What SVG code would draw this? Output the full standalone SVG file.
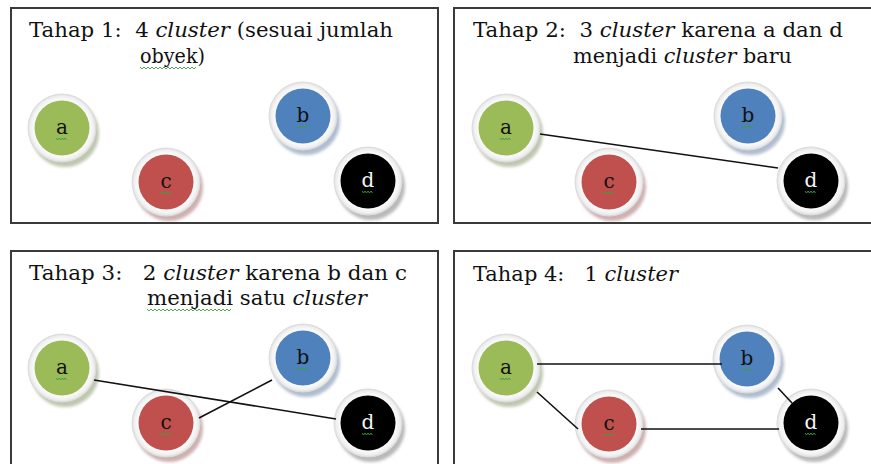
<svg xmlns="http://www.w3.org/2000/svg" width="871" height="464" viewBox="0 0 871 464">
<style>
.panel{fill:#fff;stroke:#3a3a3a;stroke-width:2}
.t{font-family:"DejaVu Serif","Liberation Serif",serif;font-size:19.5px;fill:#111;white-space:pre}
.i{font-style:italic}
.lbl{font-family:"DejaVu Serif","Liberation Serif",serif;font-size:20px;fill:#111;text-anchor:middle}
.ring{fill:url(#rg);stroke:#dcdcdc;stroke-width:1}
.conn{stroke:#111;stroke-width:1.6;fill:none}
.sq{stroke:#3aa03a;stroke-width:0.9;fill:none}
.ga{fill:#9BBB59}.bb{fill:#4F81BD}.rc{fill:#C0504D}.kd{fill:#000}
</style>
<defs>
<radialGradient id="rg" cx="0.5" cy="0.5" r="0.5">
<stop offset="0.78" stop-color="#ffffff"/>
<stop offset="0.93" stop-color="#f0f0f0"/>
<stop offset="1" stop-color="#dedede"/>
</radialGradient>
<filter id="sh" x="-30%" y="-30%" width="160%" height="160%"><feGaussianBlur stdDeviation="1.8"/></filter>
<g id="na"><circle cx="3" cy="5" r="34" fill="#8a9a70" opacity="0.55" filter="url(#sh)"/><circle r="34" class="ring"/><circle r="27.5" class="ga"/><text y="6" class="lbl">a</text><path class="sq" d="M-6,10 l1.5,2 l1.5,-2 l1.5,2 l1.5,-2 l1.5,2 l1.5,-2 l1.5,2"/></g>
<g id="nb"><circle cx="3" cy="5" r="34" fill="#7088a8" opacity="0.55" filter="url(#sh)"/><circle r="34" class="ring"/><circle r="27.5" class="bb"/><text y="6" class="lbl">b</text><path class="sq" d="M-6,10 l1.5,2 l1.5,-2 l1.5,2 l1.5,-2 l1.5,2 l1.5,-2 l1.5,2"/></g>
<g id="nc"><circle cx="3" cy="5" r="34" fill="#a87070" opacity="0.55" filter="url(#sh)"/><circle r="34" class="ring"/><circle r="27.5" class="rc"/><text y="6" class="lbl">c</text><path class="sq" d="M-6,10 l1.5,2 l1.5,-2 l1.5,2 l1.5,-2 l1.5,2 l1.5,-2 l1.5,2"/></g>
<g id="nd"><circle cx="3" cy="5" r="34" fill="#808080" opacity="0.55" filter="url(#sh)"/><circle r="34" class="ring"/><circle r="27.5" class="kd"/><text y="6" class="lbl" style="fill:#f4f4f4">d</text><path class="sq" d="M-6,10 l1.5,2 l1.5,-2 l1.5,2 l1.5,-2 l1.5,2 l1.5,-2 l1.5,2"/></g>
</defs>

<g id="panel1">
<rect class="panel" x="11" y="8" width="427" height="215"/>
<text class="t" x="29" y="37" textLength="364" lengthAdjust="spacingAndGlyphs">Tahap 1:  4 <tspan class="i">cluster</tspan> (sesuai jumlah</text>
<text class="t" x="140" y="63" textLength="65" lengthAdjust="spacingAndGlyphs">obyek)</text>
<path class="sq" d="M140,67 l2,2 l2,-2 l2,2 l2,-2 l2,2 l2,-2 l2,2 l2,-2 l2,2 l2,-2 l2,2 l2,-2 l2,2 l2,-2 l2,2 l2,-2 l2,2 l2,-2 l2,2 l2,-2 l2,2 l2,-2 l2,2 l2,-2 l2,2 l2,-2 l2,2 l2,-2"/>
<g id="p1-a"><use href="#na" x="62" y="128"/></g>
<g id="p1-b"><use href="#nb" x="303" y="116"/></g>
<g id="p1-c"><use href="#nc" x="166" y="182"/></g>
<g id="p1-d"><use href="#nd" x="368" y="181"/></g>
</g>

<g id="panel2">
<rect class="panel" x="454" y="8" width="430" height="215"/>
<text class="t" x="473" y="37" textLength="370" lengthAdjust="spacingAndGlyphs">Tahap 2:  3 <tspan class="i">cluster</tspan> karena a dan d</text>
<text class="t" x="573" y="63" textLength="219" lengthAdjust="spacingAndGlyphs">menjadi <tspan class="i">cluster</tspan> baru</text>
<g id="p2-a"><use href="#na" x="506" y="128"/></g>
<g id="p2-b"><use href="#nb" x="748" y="116"/></g>
<g id="p2-c"><use href="#nc" x="609" y="182"/></g>
<g id="p2-d"><use href="#nd" x="811" y="181"/></g>
</g>

<g id="panel3">
<rect class="panel" x="11" y="251" width="427" height="230"/>
<text class="t" x="29" y="280" textLength="378" lengthAdjust="spacingAndGlyphs">Tahap 3:   2 <tspan class="i">cluster</tspan> karena b dan c</text>
<text class="t" x="147" y="305" textLength="220" lengthAdjust="spacingAndGlyphs">menjadi satu <tspan class="i">cluster</tspan></text>
<path class="sq" d="M147,309 l2,2 l2,-2 l2,2 l2,-2 l2,2 l2,-2 l2,2 l2,-2 l2,2 l2,-2 l2,2 l2,-2 l2,2 l2,-2 l2,2 l2,-2 l2,2 l2,-2 l2,2 l2,-2 l2,2 l2,-2 l2,2 l2,-2 l2,2 l2,-2 l2,2 l2,-2 l2,2 l2,-2 l2,2 l2,-2 l2,2 l2,-2 l2,2 l2,-2 l2,2 l2,-2 l2,2 l2,-2 l2,2 l2,-2"/>
<g id="p3-a"><use href="#na" x="62" y="368"/></g>
<g id="p3-b"><use href="#nb" x="303" y="358"/></g>
<g id="p3-c"><use href="#nc" x="166" y="423"/></g>
<g id="p3-d"><use href="#nd" x="368" y="423"/></g>
</g>

<g id="panel4">
<rect class="panel" x="454" y="251" width="430" height="230"/>
<text class="t" x="473" y="281" textLength="205" lengthAdjust="spacingAndGlyphs">Tahap 4:   1 <tspan class="i">cluster</tspan></text>
<g id="p4-a"><use href="#na" x="506" y="368"/></g>
<g id="p4-b"><use href="#nb" x="747" y="359"/></g>
<g id="p4-c"><use href="#nc" x="609" y="424"/></g>
<g id="p4-d"><use href="#nd" x="811" y="423"/></g>
</g>

<g id="connectors">
<line class="conn" x1="540" y1="134" x2="778" y2="168"/>
<line class="conn" x1="94" y1="380" x2="336" y2="419"/>
<line class="conn" x1="199" y1="418" x2="272" y2="380"/>
<line class="conn" x1="537" y1="364" x2="722" y2="364"/>
<line class="conn" x1="537" y1="392" x2="578" y2="429"/>
<line class="conn" x1="641" y1="429" x2="779" y2="429"/>
<line class="conn" x1="778" y1="388" x2="792" y2="403"/>
</g>
</svg>
